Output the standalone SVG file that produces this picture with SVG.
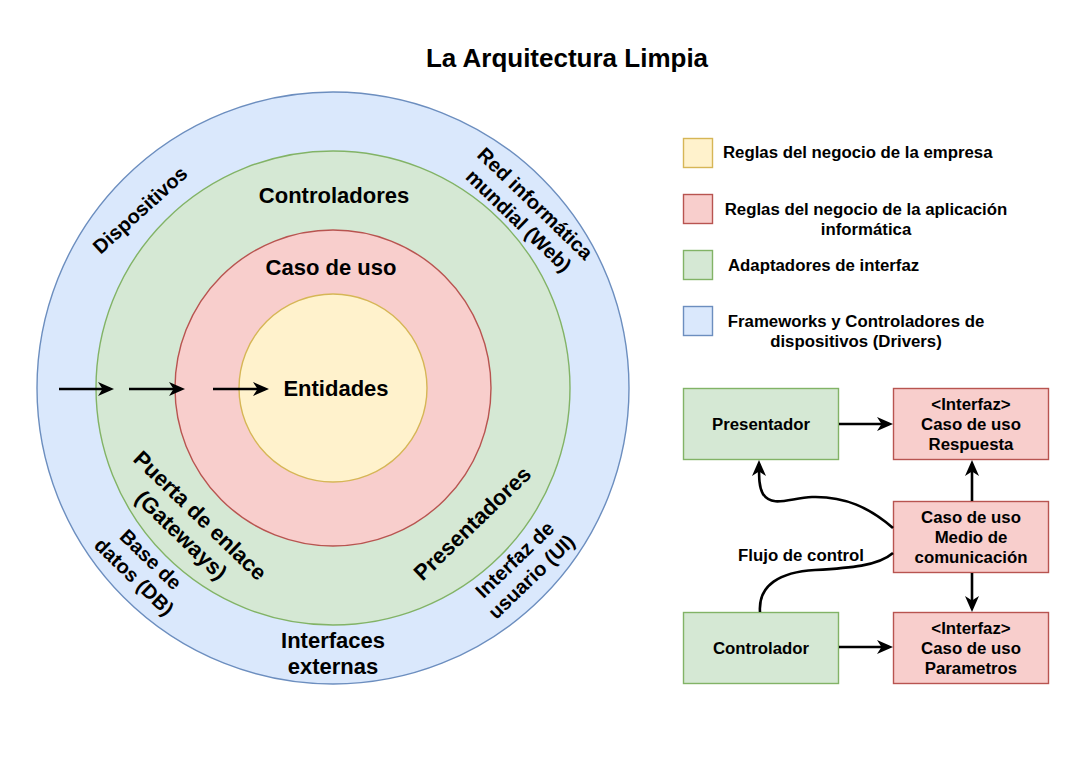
<svg xmlns="http://www.w3.org/2000/svg" width="1086" height="769" viewBox="0 0 1086 769">
<style>
text{font-family:"Liberation Sans",Arial,Helvetica,sans-serif;font-weight:bold;fill:#000}
.t26{font-size:26px}
.t22{font-size:22px}
.t20{font-size:20px}
.t17{font-size:16.8px}
.mid{text-anchor:middle}
.blue{fill:#dae8fc;stroke:#6c8ebf;stroke-width:1.4}
.green{fill:#d5e8d4;stroke:#82b366;stroke-width:1.4}
.red{fill:#f8cecc;stroke:#b85450;stroke-width:1.4}
.yellow{fill:#fff2cc;stroke:#d6b656;stroke-width:1.4}
.edge{fill:none;stroke:#000;stroke-width:2.6}
</style>
<defs>
<marker id="arrow" viewBox="0 0 16 14" refX="12" refY="7" markerWidth="16" markerHeight="14" markerUnits="userSpaceOnUse" orient="auto">
<path d="M0,0 L16,7 L0,14 L4.5,7 Z" fill="#000"/>
</marker>
</defs>
<rect x="0" y="0" width="1086" height="769" fill="#fff"/>

<text id="title" x="567" y="67" class="t26 mid">La Arquitectura Limpia</text>

<g id="ring-frameworks">
<circle cx="333" cy="388" r="296" class="blue"/>
</g>
<g id="ring-adapters">
<circle cx="333" cy="388" r="237" class="green"/>
</g>
<g id="ring-usecases">
<circle cx="333" cy="388" r="158" class="red"/>
</g>
<g id="ring-entities">
<circle cx="333" cy="388" r="94" class="yellow"/>
</g>

<g id="ring-labels">
<text x="334" y="203" class="t22 mid">Controladores</text>
<text x="331" y="275" class="t22 mid">Caso de uso</text>
<text x="336" y="396" class="t22 mid">Entidades</text>
<text x="333" y="648" class="t22 mid">Interfaces</text>
<text x="333" y="674" class="t22 mid">externas</text>
<g transform="translate(140,210) rotate(-42)">
<text x="0" y="7" class="t20 mid">Dispositivos</text>
</g>
<g transform="translate(527,212) rotate(44)">
<text x="0" y="-5" class="t20 mid">Red informática</text>
<text x="0" y="19" class="t20 mid">mundial (Web)</text>
</g>
<g transform="translate(191,525) rotate(44)">
<text x="0" y="-5.5" class="t22 mid">Puerta de enlace</text>
<text x="0" y="21.5" class="t22 mid">(Gateways)</text>
</g>
<g transform="translate(142.5,568) rotate(44)">
<text x="0" y="-5" class="t20 mid">Base de</text>
<text x="0" y="19" class="t20 mid">datos (DB)</text>
</g>
<g transform="translate(472,523) rotate(-44)">
<text x="0" y="8" class="t22 mid">Presentadores</text>
</g>
<g transform="translate(523,568) rotate(-44)">
<text x="0" y="-5" class="t20 mid">Interfaz de</text>
<text x="0" y="19" class="t20 mid">usuario (UI)</text>
</g>
</g>

<g id="legend">
<g id="legend-enterprise">
<rect x="683.5" y="138.5" width="29" height="29" class="yellow"/>
<text x="723" y="158" class="t17">Reglas del negocio de la empresa</text>
</g>
<g id="legend-application">
<rect x="683.5" y="194.5" width="29" height="29" class="red"/>
<text x="866" y="215" class="t17 mid">Reglas del negocio de la aplicación</text>
<text x="866" y="235" class="t17 mid">informática</text>
</g>
<g id="legend-adapters">
<rect x="683.5" y="250.5" width="29" height="29" class="green"/>
<text x="728" y="271" class="t17">Adaptadores de interfaz</text>
</g>
<g id="legend-frameworks">
<rect x="683.5" y="306.5" width="29" height="29" class="blue"/>
<text x="856" y="327" class="t17 mid">Frameworks y Controladores de</text>
<text x="856" y="347" class="t17 mid">dispositivos (Drivers)</text>
</g>
</g>

<g id="node-presentador">
<rect x="683.5" y="388.5" width="155" height="71" class="green"/>
<text x="761" y="430" class="t17 mid">Presentador</text>
</g>
<g id="node-respuesta">
<rect x="893.5" y="388.5" width="155" height="71" class="red"/>
<text x="971" y="410" class="t17 mid">&lt;Interfaz&gt;</text>
<text x="971" y="430" class="t17 mid">Caso de uso</text>
<text x="971" y="450" class="t17 mid">Respuesta</text>
</g>
<g id="node-medio">
<rect x="893.5" y="501.5" width="155" height="71" class="red"/>
<text x="971" y="523" class="t17 mid">Caso de uso</text>
<text x="971" y="543" class="t17 mid">Medio de</text>
<text x="971" y="563" class="t17 mid">comunicación</text>
</g>
<g id="node-controlador">
<rect x="683.5" y="612.5" width="155" height="71" class="green"/>
<text x="761" y="654" class="t17 mid">Controlador</text>
</g>
<g id="node-parametros">
<rect x="893.5" y="612.5" width="155" height="71" class="red"/>
<text x="971" y="634" class="t17 mid">&lt;Interfaz&gt;</text>
<text x="971" y="654" class="t17 mid">Caso de uso</text>
<text x="971" y="674" class="t17 mid">Parametros</text>
</g>

<g id="connectors">
<line x1="59" y1="389" x2="110" y2="389" class="edge" marker-end="url(#arrow)"/>
<line x1="129" y1="389" x2="181" y2="389" class="edge" marker-end="url(#arrow)"/>
<line x1="213" y1="389" x2="265" y2="389" class="edge" marker-end="url(#arrow)"/>
<line x1="839" y1="424" x2="889" y2="424" class="edge" marker-end="url(#arrow)"/>
<line x1="839" y1="647" x2="889" y2="647" class="edge" marker-end="url(#arrow)"/>
<line x1="972" y1="501" x2="972" y2="464" class="edge" marker-end="url(#arrow)"/>
<line x1="972" y1="573" x2="972" y2="608" class="edge" marker-end="url(#arrow)"/>
<path d="M893,528 C870,508 845,496 812,497 C790,498 772,508 763,494 C759,487 759,478 759,464" class="edge" marker-end="url(#arrow)"/>
<path d="M760,612 C758,585 780,572 815,570 C850,568 878,566 893,553" class="edge"/>
<text x="801" y="561" class="t17 mid">Flujo de control</text>
</g>
</svg>
